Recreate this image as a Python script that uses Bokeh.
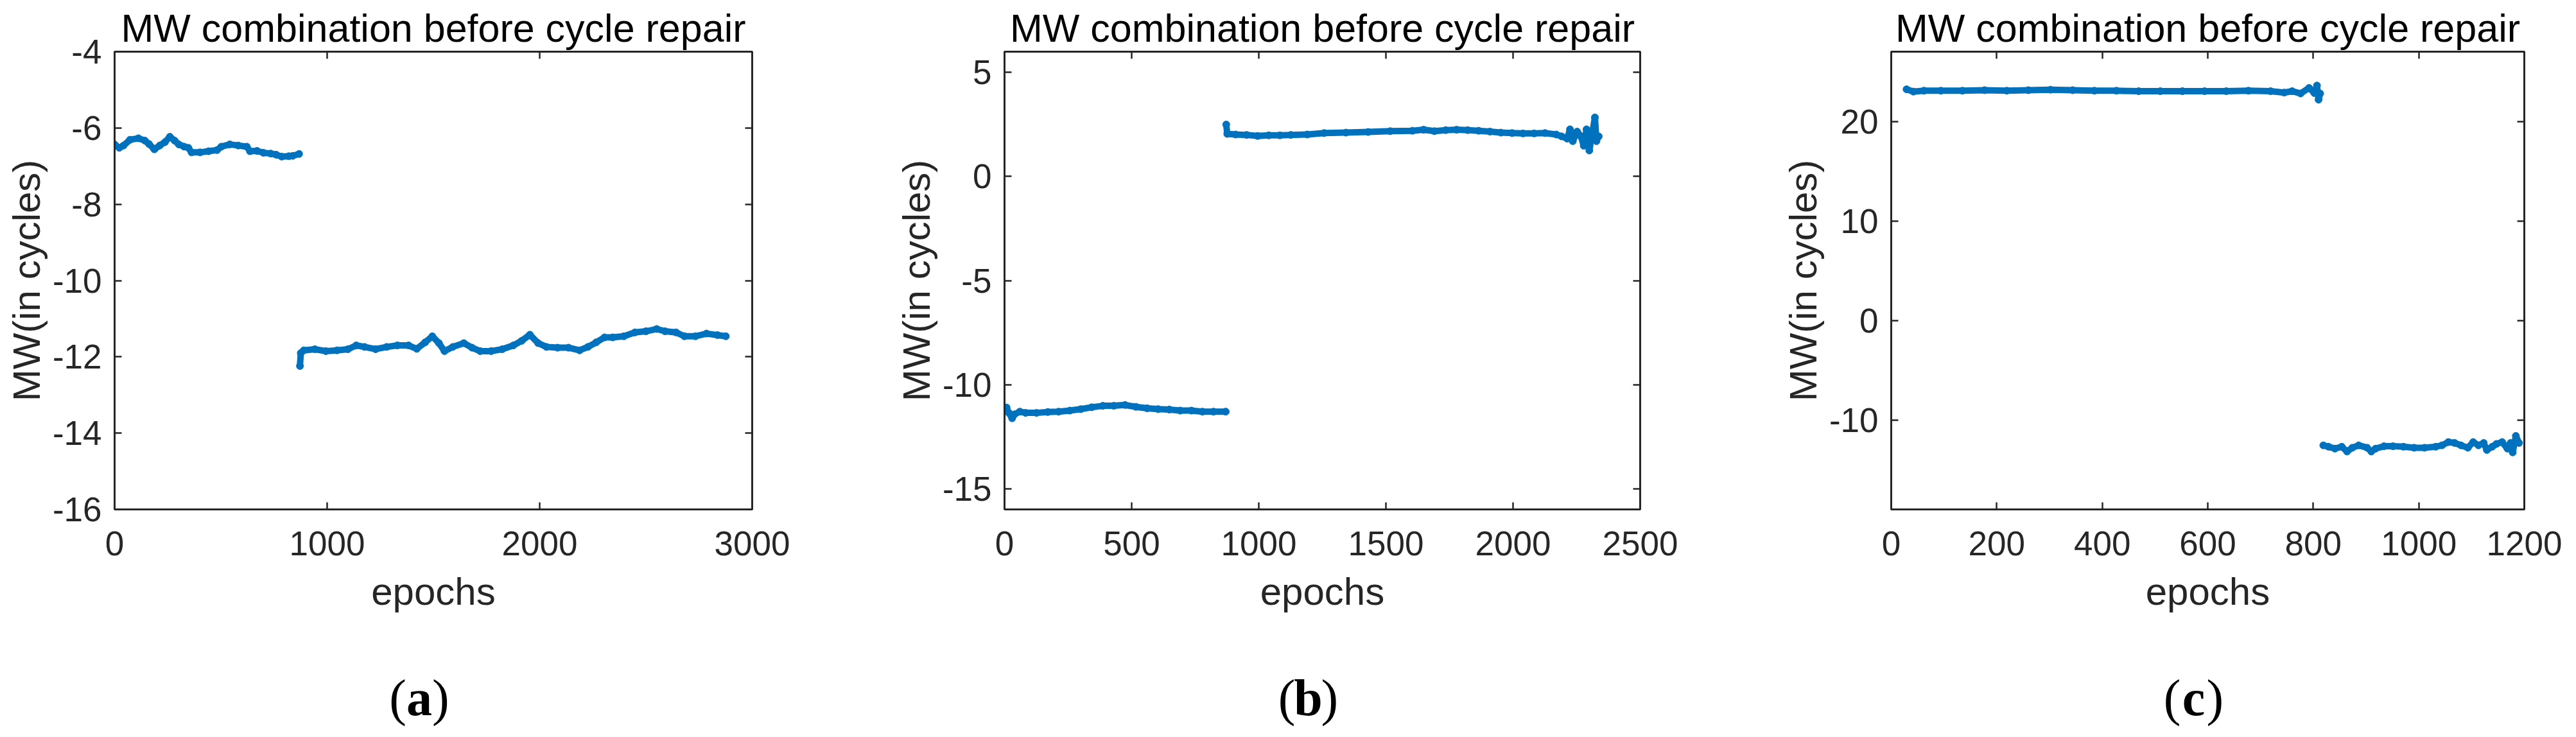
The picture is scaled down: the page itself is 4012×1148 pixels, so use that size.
from bokeh.plotting import figure
from bokeh.models import Range1d, LinearAxis, FixedTicker, Label
from bokeh.layouts import row, column
from bokeh.embed import file_html
from bokeh.resources import INLINE

# ---------------- data ----------------
TITLE = "MW combination before cycle repair"
X_LABEL = "epochs"
Y_LABEL = "MW(in cycles)"
TAGS = ["a", "b", "c"]

# panel (a)
a_ep1 = [0, 22, 42, 72, 112, 142, 162, 187, 212, 237, 260, 282, 302, 327, 347, 362,
         402, 442, 482, 502, 542, 582, 622, 637, 670, 700, 734, 760, 786, 820, 838, 868]
a_mw1 = [-6.43, -6.52, -6.46, -6.31, -6.27, -6.33, -6.42, -6.56, -6.46, -6.37, -6.23, -6.33,
         -6.43, -6.49, -6.52, -6.64, -6.64, -6.61, -6.58, -6.49, -6.43, -6.46, -6.49, -6.61,
         -6.60, -6.65, -6.67, -6.70, -6.75, -6.74, -6.73, -6.68]
a_ep2 = [872, 876, 890, 942, 994, 1046, 1098, 1137, 1176, 1228, 1280, 1331, 1383, 1422,
         1461, 1495, 1526, 1552, 1591, 1643, 1682, 1720, 1772, 1824, 1876, 1915, 1954, 1993,
         2032, 2084, 2136, 2188, 2227, 2266, 2305, 2344, 2396, 2448, 2500, 2551, 2590, 2642,
         2681, 2733, 2785, 2837, 2876]
a_mw2 = [-12.24, -11.90, -11.83, -11.80, -11.85, -11.83, -11.80, -11.70, -11.74, -11.80,
         -11.74, -11.70, -11.70, -11.79, -11.62, -11.46, -11.64, -11.85, -11.74, -11.64,
         -11.76, -11.85, -11.85, -11.80, -11.70, -11.58, -11.42, -11.64, -11.74, -11.76,
         -11.76, -11.83, -11.74, -11.62, -11.49, -11.49, -11.46, -11.36, -11.33, -11.27,
         -11.33, -11.36, -11.46, -11.46, -11.39, -11.43, -11.46]
a_xticks = [0, 1000, 2000, 3000]
a_yticks = [-16, -14, -12, -10, -8, -6, -4]

# panel (b)
b_ep1 = [0, 8, 17, 30, 39, 60, 83, 126, 170, 213, 257, 300, 343, 387, 430, 474, 517,
         561, 604, 648, 691, 735, 778, 822, 870]
b_mw1 = [-11.25, -11.10, -11.36, -11.62, -11.43, -11.30, -11.36, -11.36, -11.32, -11.30,
         -11.25, -11.18, -11.09, -11.02, -11.02, -10.98, -11.07, -11.14, -11.18, -11.20,
         -11.25, -11.25, -11.30, -11.30, -11.30]
b_ep2 = [872, 876, 909, 952, 996, 1039, 1083, 1126, 1191, 1257, 1343, 1430, 1517, 1604,
         1648, 1691, 1735, 1778, 1822, 1865, 1909, 1952, 1996, 2039, 2083, 2126, 2170, 2191,
         2213, 2224, 2235, 2252, 2267, 2278, 2289, 2300, 2311, 2322, 2328, 2337]
b_mw2 = [2.50, 2.05, 2.02, 2.00, 1.95, 1.98, 1.98, 2.00, 2.02, 2.09, 2.11, 2.14, 2.18, 2.20,
         2.25, 2.18, 2.23, 2.25, 2.23, 2.20, 2.16, 2.11, 2.09, 2.07, 2.07, 2.09, 2.02, 1.93,
         1.82, 2.27, 1.70, 2.16, 1.93, 1.48, 2.27, 1.25, 2.05, 2.84, 1.70, 1.93]
b_xticks = [0, 500, 1000, 1500, 2000, 2500]
b_yticks = [-15, -10, -5, 0, 5]

# panel (c)
c_ep1 = [29, 42, 62, 94, 135, 177, 219, 260, 302, 344, 385, 427, 469, 510, 552, 594, 635,
         677, 719, 745, 760, 776, 792, 802, 807, 810, 813]
c_mw1 = [23.22, 22.99, 23.08, 23.08, 23.08, 23.13, 23.08, 23.13, 23.18, 23.13, 23.08, 23.08,
         23.03, 23.03, 23.03, 23.03, 23.03, 23.08, 23.03, 22.89, 23.03, 22.80, 23.36, 22.84,
         23.60, 22.18, 22.80]
c_ep2 = [819, 829, 841, 854, 864, 874, 886, 902, 910, 918, 934, 951, 971, 991, 1011, 1032,
         1044, 1056, 1068, 1080, 1093, 1103, 1113, 1123, 1129, 1139, 1147, 1158, 1168, 1174,
         1178, 1184, 1190]
c_mw2 = [-12.56, -12.70, -12.89, -12.70, -13.18, -12.80, -12.56, -12.80, -13.18, -12.89,
         -12.65, -12.65, -12.70, -12.80, -12.80, -12.70, -12.56, -12.23, -12.32, -12.56,
         -12.80, -12.23, -12.56, -12.32, -13.03, -12.70, -12.42, -12.23, -12.89, -12.32,
         -13.27, -11.61, -12.32]
c_xticks = [0, 200, 400, 600, 800, 1000, 1200]
c_yticks = [-10, 0, 10, 20]

BLUE = "#0072BD"
AX = "#262626"
SANS = "Liberation Sans"
SERIF = "Liberation Serif"

FIG_H = 1002      # main plots
TAG_H = 130       # strip holding the "(a)" tags
MB_TOP = 80
MB_BOT = 209
TAG_BASELINE_FROM_TOP = 84
TAG_SHIFT = -22


def style_axis(ax, ticks, show_labels=True):
    ax.ticker = FixedTicker(ticks=ticks)
    ax.axis_line_color = AX
    ax.axis_line_width = 3
    ax.major_tick_line_color = AX
    ax.major_tick_line_width = 2.5
    ax.major_tick_in = 11
    ax.major_tick_out = 0
    ax.minor_tick_line_color = None
    if show_labels:
        ax.major_label_overrides = {t: str(t) for t in ticks}
        ax.major_label_text_font = SANS
        ax.major_label_text_font_size = "53px"
        ax.major_label_text_color = AX
        ax.axis_label_text_font = SANS
        ax.axis_label_text_font_size = "60px"
        ax.axis_label_text_font_style = "normal"
        ax.axis_label_text_color = AX
    else:
        ax.major_label_text_font_size = "1px"
        ax.major_label_text_color = None
        ax.major_label_standoff = 0


def panel(x_end, yr, xticks, yticks, segs, width, mbl, mbr):
    y0, y1 = yr
    p = figure(width=width, height=FIG_H,
               x_range=Range1d(0, x_end), y_range=Range1d(y0, y1),
               output_backend="svg", toolbar_location=None,
               min_border_left=mbl, min_border_right=mbr,
               min_border_top=MB_TOP, min_border_bottom=MB_BOT,
               x_axis_label=X_LABEL, y_axis_label=Y_LABEL)
    p.xgrid.visible = False
    p.ygrid.visible = False
    p.outline_line_color = AX
    p.outline_line_width = 3
    p.background_fill_color = "white"
    p.border_fill_color = "white"

    style_axis(p.xaxis[0], xticks)
    style_axis(p.yaxis[0], yticks)
    p.xaxis[0].major_label_standoff = 34
    p.xaxis[0].axis_label_standoff = 20
    p.yaxis[0].major_label_standoff = 20
    p.yaxis[0].axis_label_standoff = 4

    top = LinearAxis()
    style_axis(top, xticks, show_labels=False)
    p.add_layout(top, "above")
    right = LinearAxis()
    style_axis(right, yticks, show_labels=False)
    p.add_layout(right, "right")

    p.title.text = TITLE
    p.title.align = "center"
    p.title.text_font = SANS
    p.title.text_font_size = "61px"
    p.title.text_font_style = "normal"
    p.title.text_color = "black"
    p.title.standoff = 6

    for ep, mw in segs:
        p.line(ep, mw, line_color=BLUE, line_width=10, line_join="round", line_cap="round")
        p.scatter(ep, mw, size=11, fill_color=BLUE, line_color=BLUE)
    return p


def tag_strip(letter, width, mbl, mbr):
    t = figure(width=width, height=TAG_H, x_range=Range1d(0, 1), y_range=Range1d(0, 1),
               output_backend="svg", toolbar_location=None,
               x_axis_location=None, y_axis_location=None,
               min_border_left=mbl, min_border_right=mbr,
               min_border_top=0, min_border_bottom=0)
    t.xgrid.visible = False
    t.ygrid.visible = False
    t.outline_line_color = None
    t.background_fill_color = "white"
    t.border_fill_color = "white"
    ty = 1 - TAG_BASELINE_FROM_TOP / TAG_H
    common = dict(x=0.5, y=ty, text_font=SERIF, text_font_size="80px",
                  text_color="black", text_baseline="alphabetic")
    t.add_layout(Label(text="(", x_offset=TAG_SHIFT - 20, text_align="right", **common))
    t.add_layout(Label(text=letter, x_offset=TAG_SHIFT, text_align="center",
                       text_font_style="bold", **common))
    t.add_layout(Label(text=")", x_offset=TAG_SHIFT + 20, text_align="left", **common))
    return t


geom = [(1292, 178, 121), (1380, 272, 118), (1320, 273, 61)]

pa = panel(3000, (-16, -4), a_xticks, a_yticks,
           [(a_ep1, a_mw1), (a_ep2, a_mw2)], *geom[0])
pb = panel(2500, (-16, 6), b_xticks, b_yticks,
           [(b_ep1, b_mw1), (b_ep2, b_mw2)], *geom[1])
pc = panel(1200, (-19, 27), c_xticks, c_yticks,
           [(c_ep1, c_mw1), (c_ep2, c_mw2)], *geom[2])

tags = [tag_strip(letter, *g) for letter, g in zip(TAGS, geom)]

layout = column(row(pa, pb, pc), row(*tags))
open("out.html", "w").write(file_html(layout, INLINE))
